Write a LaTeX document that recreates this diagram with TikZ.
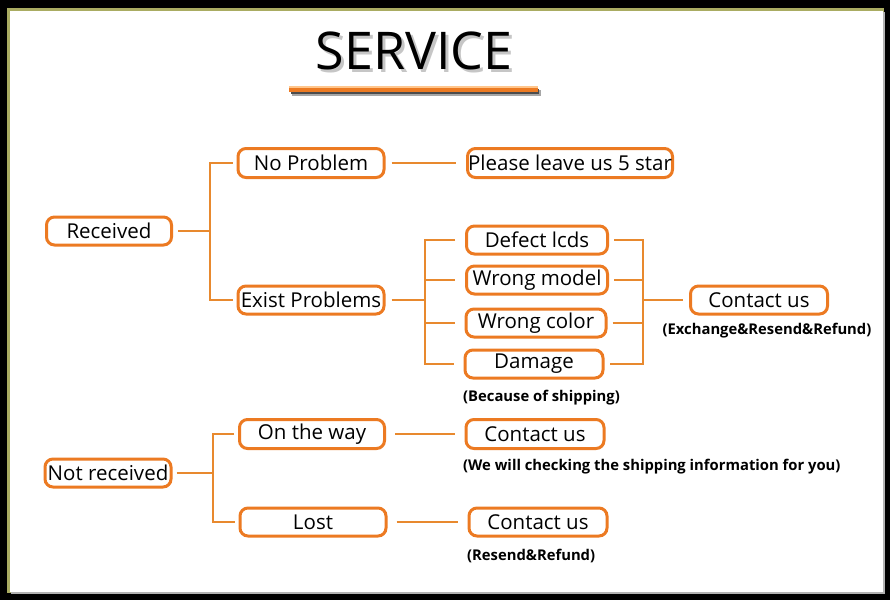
\documentclass[tikz,border=0pt]{standalone}
\usepackage{fontspec}
\setmainfont{Open Sans}
\definecolor{org}{RGB}{236,122,34}
\definecolor{orgl}{RGB}{232,137,46}
\definecolor{olive}{RGB}{170,172,98}
\tikzset{
  box/.style={draw=org, line width=3pt, rounded corners=8pt, fill=white, inner sep=0pt, font=\fontsize{20.5}{24}\selectfont, text=black},
  conn/.style={draw=orgl, line width=1.3pt},
  note/.style={inner sep=0pt, font=\fontsize{14.8}{17}\selectfont\bfseries, text=black},
}
\begin{document}
\begin{tikzpicture}[x=1pt,y=-1pt]
\useasboundingbox (0,0) rectangle (890,600);
% frame
\fill[black] (0,0) rectangle (890,600);
\fill[olive] (7,8) rectangle (884,593);
\fill[white] (10,11) rectangle (883,592);
\fill[gray!60] (883,12) rectangle (885,593);
\fill[gray!60] (11,592) rectangle (885,594);

% title
\node[text=black, font=\fontsize{52}{60}\selectfont, inner sep=0pt] (title) at (414,52)
  {\rlap{\hspace{3pt}\raisebox{-3pt}{\textcolor{gray!45}{SERVICE}}}SERVICE};
\fill[black!35] (292,90) rectangle (541,96);
\fill[black!70] (291,89) rectangle (539,94);
\fill[org] (289,86) rectangle (538,92);
\fill[orange!45] (289,86) rectangle (538,87.5);

% nodes
\node[box, minimum width=125pt, minimum height=28pt] (rec) at (109,231) {Received};
\node[box, minimum width=146pt, minimum height=29pt] (np) at (311,163) {No Problem};
\node[box, minimum width=146pt, minimum height=28pt] (ep) at (311,300) {Exist Problems};
\node[box, minimum width=205pt, minimum height=29pt] (star) at (570,163) {Please leave us 5 star};
\node[box, minimum width=141pt, minimum height=28pt] (dl) at (537,240) {Defect lcds};
\node[box, minimum width=141pt, minimum height=28pt] (wm) at (537,280) {Wrong model};
\node[box, minimum width=140pt, minimum height=28pt] (wc) at (536,323) {Wrong color};
\node[box, minimum width=138pt, minimum height=28pt] (dm) at (534,364) {Damage};
\node[box, minimum width=137pt, minimum height=28pt] (c1) at (759,300) {Contact us};
\node[box, minimum width=126pt, minimum height=28pt] (nr) at (108,473) {Not received};
\node[box, minimum width=145pt, minimum height=29pt] (otw) at (312,434) {On the way};
\node[box, minimum width=146pt, minimum height=28pt] (lost) at (313,522) {Lost};
\node[box, minimum width=138pt, minimum height=29pt] (c2) at (535,434) {Contact us};
\node[box, minimum width=138pt, minimum height=28pt] (c3) at (538,522) {Contact us};

% notes
\node[note] (n1) at (767,331) {(Exchange\&Resend\&Refund)};
\node[note, anchor=west] (n2) at (463,398) {(Because of shipping)};
\node[note, anchor=west] (n3) at (463,467) {(We will checking the shipping information for you)};
\node[note, anchor=west] (n4) at (467,556) {(Resend\&Refund)};

% junctions
\coordinate (j1) at (210,231);
\coordinate (j2) at (425,300);
\coordinate (j3) at (643,300);
\coordinate (j4) at (213,472);

% connectors
\draw[conn] ([xshift=5pt]rec.east) -- (j1 |- rec.east);
\draw[conn] ([xshift=-4pt]np.west) -| (j1) |- ([xshift=-4pt]ep.west);
\draw[conn] ([xshift=6pt]np.east) -- ([xshift=-10pt]star.west);

\draw[conn] ([xshift=6pt]ep.east) -- (j2 |- ep.east);
\draw[conn] ([xshift=-10pt]dl.west) -| (j2) |- ([xshift=-10pt]dm.west);
\draw[conn] (j2 |- wm.west) -- ([xshift=-10pt]wm.west);
\draw[conn] (j2 |- wc.west) -- ([xshift=-10pt]wc.west);

\draw[conn] ([xshift=5pt]dl.east) -| (j3) |- ([xshift=5pt]dm.east);
\draw[conn] ([xshift=5pt]wm.east) -- (j3 |- wm.east);
\draw[conn] ([xshift=5pt]wc.east) -- (j3 |- wc.east);
\draw[conn] (j3 |- c1.west) -- ([xshift=-6pt]c1.west);

\draw[conn] ([xshift=4pt]nr.east) -- (j4 |- nr.east);
\draw[conn] ([xshift=-4pt]otw.west) -| (j4) |- ([xshift=-4pt]lost.west);
\draw[conn] ([xshift=9pt]otw.east) -- ([xshift=-10pt]c2.west);
\draw[conn] ([xshift=9pt]lost.east) -- ([xshift=-10pt]c3.west);
\end{tikzpicture}
\end{document}
